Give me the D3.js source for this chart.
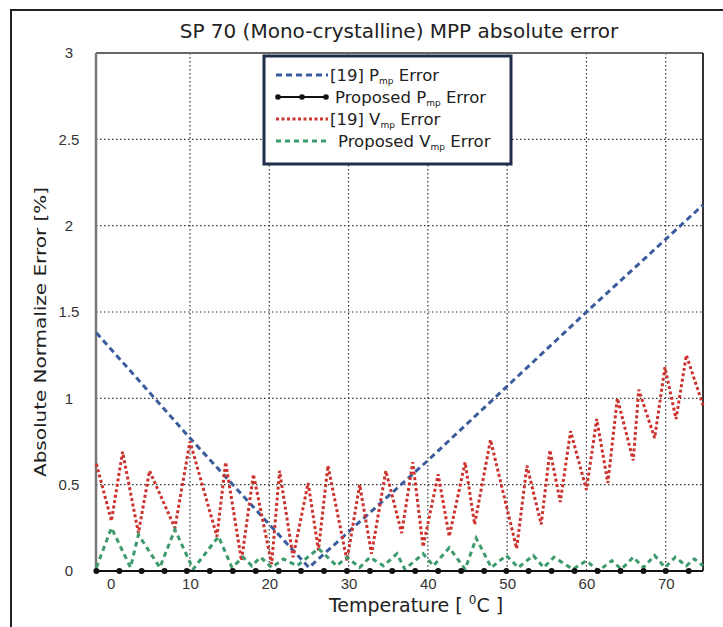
<!DOCTYPE html>
<html>
<head>
<meta charset="utf-8">
<script src="https://cdn.jsdelivr.net/npm/d3@7"></script>
<style>
  body { margin: 0; background: #fff; }
  svg { font-family: "DejaVu Sans", sans-serif; }
</style>
</head>
<body>
<div id="chart"></div>
<script>
var width = 723, height = 627;

// ---- data ----
var xTicks = [0, 10, 20, 30, 40, 50, 60, 70];
var yTicks = [0, 0.5, 1, 1.5, 2, 2.5, 3];
var xGrid = [10, 20, 30, 40, 50, 60, 70];
var yGrid = [0.5, 1, 1.5, 2, 2.5];

// [19] Pmp error
var blueT = [-1.8, 10, 25, 40, 60, 74.7];
var blueV = [1.38, 0.77, 0.02, 0.64, 1.50, 2.12];

// proposed Pmp error
var blackT = [-1.8, 1.1, 3.9, 6.8, 9.6, 12.5, 15.4, 18.3, 21.2, 24.0, 26.9, 29.8, 32.7, 35.5,
  38.4, 41.3, 44.2, 47.1, 49.9, 52.7, 55.6, 58.5, 61.4, 64.3, 67.2, 70.0, 72.9, 74.7];
var blackV = [0, 0, 0, 0, 0, 0, 0, 0, 0, 0, 0, 0, 0, 0,
  0, 0, 0, 0, 0, 0, 0, 0, 0, 0, 0, 0, 0, 0];

// [19] Vmp error
var redT = [-1.8, 0.1, 1.5, 3.5, 4.9, 8.1, 10.0, 13.4, 14.5, 16.5, 18.0, 20.3, 21.3, 23.0, 24.9,
  26.2, 27.4, 29.8, 31.4, 32.9, 34.7, 36.7, 38.1, 39.4, 41.3, 42.7, 44.7, 45.9, 47.9, 51.2,
  52.5, 54.3, 55.4, 56.7, 58.0, 60.0, 61.3, 62.7, 63.9, 65.9, 66.6, 68.6, 69.9, 71.3, 72.6, 74.7];
var redV = [0.62, 0.29, 0.69, 0.22, 0.58, 0.25, 0.75, 0.20, 0.63, 0.06, 0.56, 0.04, 0.58, 0.08, 0.51,
  0.12, 0.61, 0.06, 0.50, 0.10, 0.58, 0.22, 0.63, 0.14, 0.56, 0.20, 0.63, 0.27, 0.76, 0.13,
  0.61, 0.27, 0.70, 0.40, 0.81, 0.47, 0.88, 0.51, 1.00, 0.64, 1.05, 0.77, 1.18, 0.88, 1.25, 0.96];

// proposed Vmp error
var greenT = [-1.8, 0.1, 2.5, 3.5, 6.2, 8.1, 10.4, 13.6, 15.3, 16.7, 17.8, 18.9, 20.3, 21.8, 23.5,
  26.2, 28.5, 29.8, 31.4, 32.7, 34.4, 36.1, 37.1, 39.4, 40.7, 42.7, 44.7, 46.1, 48.0, 49.9,
  51.4, 53.3, 54.6, 55.9, 58.3, 60.0, 61.5, 63.2, 64.4, 65.9, 67.2, 68.6, 69.9, 71.2, 72.6, 73.6, 74.7];
var greenV = [0.02, 0.25, 0.02, 0.21, 0.02, 0.24, 0.01, 0.20, 0.02, 0.08, 0.03, 0.08, 0.02, 0.07, 0.03,
  0.13, 0.03, 0.08, 0.02, 0.08, 0.03, 0.10, 0.01, 0.10, 0.03, 0.135, 0.01, 0.19, 0.02, 0.09,
  0.02, 0.09, 0.02, 0.08, 0.01, 0.06, 0.0, 0.06, 0.01, 0.08, 0.02, 0.09, 0.02, 0.08, 0.03, 0.07, 0.03];

var plot = { left: 96, right: 703, top: 53, bottom: 571 };

var x = d3.scaleLinear()
    .domain([-1.85, 74.7])
    .range([plot.left, plot.right]);

var y = d3.scaleLinear()
    .domain([0, 3])
    .range([plot.bottom, plot.top]);

var svg = d3.select('#chart').append('svg')
    .attr('width', width)
    .attr('height', height);

// outer frame (only left and top are visible in the picture)
svg.append('path')
    .attr('d', 'M11,' + height + 'V10H' + width)
    .style('fill', 'none')
    .style('stroke', '#222')
    .style('stroke-width', 2);

// grid
svg.append('g').selectAll('line')
    .data(xGrid)
    .enter()
    .append('line')
    .attr('x1', function (d) { return x(d) })
    .attr('x2', function (d) { return x(d) })
    .attr('y1', plot.top)
    .attr('y2', plot.bottom)
    .style('stroke', '#333')
    .style('stroke-width', 1.2)
    .style('stroke-dasharray', '1.5,2.5');

svg.append('g').selectAll('line')
    .data(yGrid)
    .enter()
    .append('line')
    .attr('x1', plot.left)
    .attr('x2', plot.right)
    .attr('y1', function (d) { return y(d) })
    .attr('y2', function (d) { return y(d) })
    .style('stroke', '#333')
    .style('stroke-width', 1.2)
    .style('stroke-dasharray', '1.5,2.5');

// plot box
svg.append('line')
    .attr('x1', plot.left).attr('x2', plot.right)
    .attr('y1', plot.top).attr('y2', plot.top)
    .style('stroke', '#666').style('stroke-width', 2);
svg.append('line')
    .attr('x1', plot.left).attr('x2', plot.left)
    .attr('y1', plot.top).attr('y2', plot.bottom)
    .style('stroke', '#777').style('stroke-width', 2.5);
svg.append('line')
    .attr('x1', plot.right).attr('x2', plot.right)
    .attr('y1', plot.top).attr('y2', plot.bottom)
    .style('stroke', '#333').style('stroke-width', 2);

// axes
var xAxis = svg.append('g')
    .attr('transform', 'translate(0,' + plot.bottom + ')')
    .call(d3.axisBottom(x).tickValues(xTicks).tickSize(0).tickPadding(7)
        .tickFormat(d3.format('d')));
xAxis.select('.domain').remove();
xAxis.selectAll('text')
    .style('font-size', '15px')
    .style('fill', '#333');

var yAxis = svg.append('g')
    .attr('transform', 'translate(' + plot.left + ',0)')
    .call(d3.axisLeft(y).tickValues(yTicks).tickSize(0).tickPadding(27)
        .tickFormat(function (d) { return d3.format('')(d) }));
yAxis.select('.domain').remove();
yAxis.selectAll('text')
    .attr('text-anchor', 'middle')
    .style('font-size', '15px')
    .style('fill', '#333');

// series
function pts(ts, vs) {
    return ts.map(function (t, i) { return [t, vs[i]] });
}

var line = d3.line()
    .x(function (d) { return x(d[0]) })
    .y(function (d) { return y(d[1]) });

var series = [
    { name: 'blue', data: pts(blueT, blueV), color: '#3b5c9c', dash: '6,4', w: 3 },
    { name: 'red', data: pts(redT, redV), color: '#cc332e', dash: '3,2.5', w: 3 },
    { name: 'green', data: pts(greenT, greenV), color: '#3d9a6c', dash: '5,4', w: 3 }
];

svg.append('g').selectAll('path')
    .data(series)
    .enter()
    .append('path')
    .attr('d', function (d) { return line(d.data) })
    .style('fill', 'none')
    .style('stroke', function (d) { return d.color })
    .style('stroke-width', function (d) { return d.w })
    .style('stroke-dasharray', function (d) { return d.dash });

var black = pts(blackT, blackV);
svg.append('path')
    .attr('d', line(black))
    .style('fill', 'none')
    .style('stroke', '#111')
    .style('stroke-width', 2);

svg.append('g').selectAll('circle')
    .data(black.slice(0, -1))
    .enter()
    .append('circle')
    .attr('cx', function (d) { return x(d[0]) })
    .attr('cy', function (d) { return y(d[1]) })
    .attr('r', 3)
    .style('fill', '#111');

// title and axis labels
svg.append('text')
    .attr('x', 399)
    .attr('y', 38)
    .attr('text-anchor', 'middle')
    .style('font-size', '20px')
    .style('fill', '#222')
    .text('SP 70 (Mono-crystalline) MPP absolute error');

var xl = svg.append('text')
    .attr('x', 416)
    .attr('y', 612)
    .attr('text-anchor', 'middle')
    .style('font-size', '19px')
    .style('fill', '#222');
xl.append('tspan').text('Temperature [ ');
xl.append('tspan').attr('dy', -8).style('font-size', '12px').text('0');
xl.append('tspan').attr('dy', 8).text('C ]');

svg.append('text')
    .attr('transform', 'translate(46,332) rotate(-90)')
    .attr('text-anchor', 'middle')
    .attr('textLength', 290)
    .attr('lengthAdjust', 'spacingAndGlyphs')
    .style('font-size', '16px')
    .style('fill', '#222')
    .text('Absolute Normalize Error [%]');

// legend
var legendItems = [
    { pre: '[19] P', sub: 'mp', post: ' Error', color: '#3b5c9c', dash: '6,4', dot: false, y: 75, tx: 330 },
    { pre: 'Proposed P', sub: 'mp', post: ' Error', color: '#111', dash: null, dot: true, y: 97, tx: 335 },
    { pre: '[19] V', sub: 'mp', post: ' Error', color: '#cc332e', dash: '3,2.5', dot: false, y: 119, tx: 330 },
    { pre: 'Proposed V', sub: 'mp', post: ' Error', color: '#3d9a6c', dash: '5,4', dot: false, y: 141, tx: 338 }
];

var legend = svg.append('g');
legend.append('rect')
    .attr('x', 264)
    .attr('y', 56)
    .attr('width', 247)
    .attr('height', 108)
    .style('fill', '#fff')
    .style('stroke', '#1f2c4a')
    .style('stroke-width', 3);

var li = legend.selectAll('g.item')
    .data(legendItems)
    .enter()
    .append('g')
    .attr('class', 'item');

li.append('line')
    .attr('x1', 276)
    .attr('x2', 328)
    .attr('y1', function (d) { return d.y })
    .attr('y2', function (d) { return d.y })
    .style('stroke', function (d) { return d.color })
    .style('stroke-width', function (d) { return d.dot ? 2 : 3 })
    .style('stroke-dasharray', function (d) { return d.dash });

li.filter(function (d) { return d.dot })
    .selectAll('circle')
    .data([278, 302, 326])
    .enter()
    .append('circle')
    .attr('cx', function (d) { return d })
    .attr('cy', 97)
    .attr('r', 2.8)
    .style('fill', '#111');

var lt = li.append('text')
    .attr('x', function (d) { return d.tx })
    .attr('y', function (d) { return d.y + 6 })
    .style('font-size', '16.5px')
    .style('fill', '#222');
lt.append('tspan').text(function (d) { return d.pre });
lt.append('tspan').attr('dy', 3).style('font-size', '9px').text(function (d) { return d.sub });
lt.append('tspan').attr('dy', -3).text(function (d) { return d.post });
</script>
</body>
</html>
